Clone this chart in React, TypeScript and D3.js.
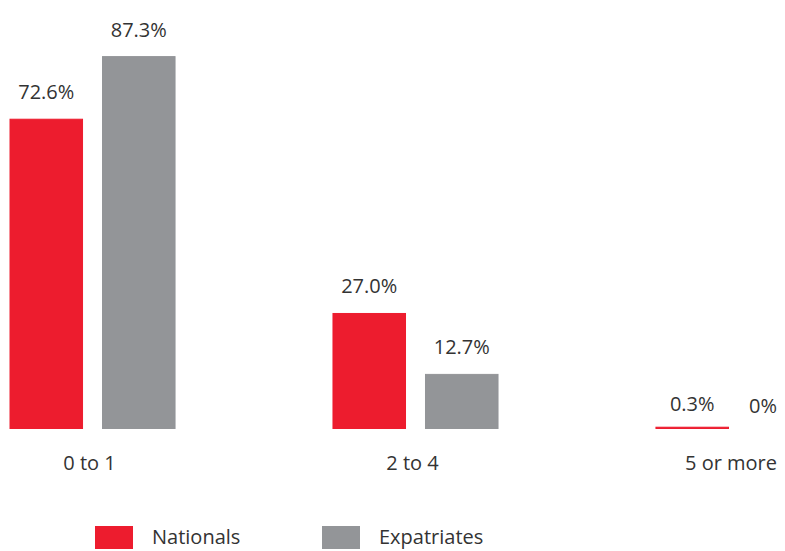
import React, { useRef, useEffect } from 'react';
import * as d3 from 'd3';

const categories = ['0 to 1', '2 to 4', '5 or more'];
const seriesNames = ['Nationals', 'Expatriates'];
const nationals = [72.6, 27.0, 0.3];
const expatriates = [87.3, 12.7, 0];
const valueLabels = [
  ['72.6%', '87.3%'],
  ['27.0%', '12.7%'],
  ['0.3%', '0%'],
];
const colors = ['#ED1C2E', '#939598'];

const W = 785;
const H = 551;
const RIGHT_EDGE = 777;
const FONT = '"Open Sans", sans-serif';
const FS = 20;

function App() {
  const svgRef = useRef<SVGSVGElement>(null);

  useEffect(() => {
    const svg = d3.select(svgRef.current);
    svg.selectAll('*').remove();

    const rows = categories.map((c, i) => ({
      cat: c,
      values: [nationals[i], expatriates[i]],
      labels: valueLabels[i],
    }));

    // group scale
    const x0 = d3.scaleBand<string>()
      .domain(categories)
      .range([10, 821])
      .paddingInner(0.489)
      .paddingOuter(0);

    const x1 = d3.scaleBand<string>()
      .domain(seriesNames)
      .range([0, x0.bandwidth()])
      .paddingInner(0.216);

    const y = d3.scaleLinear()
      .domain([0, 100])
      .range([428.5, 2.5]);

    const g = svg.append('g');

    // keep texts inside the picture: pull back any label that runs off the right edge
    const fitRight = (sel: any) => {
      sel.each(function (this: SVGTextElement) {
        const t = d3.select(this);
        const bb = this.getBBox();
        if (bb.x + bb.width > RIGHT_EDGE) {
          t.attr('text-anchor', 'end').attr('x', RIGHT_EDGE);
        }
      });
    };

    const groups = g.selectAll('.grp')
      .data(rows)
      .enter()
      .append('g')
      .attr('class', 'grp')
      .attr('transform', d => `translate(${x0(d.cat)},0)`);

    const bars = groups.selectAll('.bar')
      .data(d => d.values.map((v, k) => ({ v, k, label: d.labels[k], gx: x0(d.cat)! })))
      .enter();

    bars.append('rect')
      .attr('x', d => x1(seriesNames[d.k])!)
      .attr('y', d => y(d.v))
      .attr('width', x1.bandwidth())
      .attr('height', d => y(0) - y(d.v))
      .attr('fill', d => colors[d.k])
      .attr('stroke', d => (d.v > 0 ? colors[d.k] : 'none'))
      .attr('stroke-width', 1);

    // value labels (placed at top level so clamping works in page coords)
    const valueData = rows.flatMap(r => r.values.map((v, k) => ({
      v, k, label: r.labels[k], gx: x0(r.cat)!,
    })));
    g.selectAll('.val')
      .data(valueData)
      .enter()
      .append('text')
      .attr('class', 'val')
      .attr('x', d => d.gx + x1(seriesNames[d.k])! + x1.bandwidth() / 2)
      .attr('y', d => y(d.v) - (d.v < 1 ? 16 : 20))
      .attr('text-anchor', 'middle')
      .attr('font-family', FONT)
      .attr('font-size', FS)
      .attr('fill', '#333333')
      .text(d => d.label)
      .call(fitRight);

    // category labels
    g.selectAll('.cat')
      .data(categories)
      .enter()
      .append('text')
      .attr('class', 'cat')
      .attr('x', d => x0(d)! + x0.bandwidth() / 2 - 3)
      .attr('y', 470)
      .attr('text-anchor', 'middle')
      .attr('font-family', FONT)
      .attr('font-size', FS)
      .attr('fill', '#333333')
      .text(d => d)
      .call(fitRight);

    // legend
    const legendX = [95, 322];
    const leg = g.selectAll('.leg')
      .data(seriesNames)
      .enter()
      .append('g')
      .attr('transform', (d, i) => `translate(${legendX[i]},526)`);

    leg.append('rect')
      .attr('width', 38)
      .attr('height', 23)
      .attr('fill', (d, i) => colors[i]);

    leg.append('text')
      .attr('x', 57)
      .attr('y', 18)
      .attr('font-family', FONT)
      .attr('font-size', FS)
      .attr('fill', '#333333')
      .text(d => d);
  }, []);

  return (
    <svg
      ref={svgRef}
      width={W}
      height={H}
      style={{ position: 'absolute', left: 0, top: 0, display: 'block', background: '#fff' }}
    />
  );
}

export default App;
